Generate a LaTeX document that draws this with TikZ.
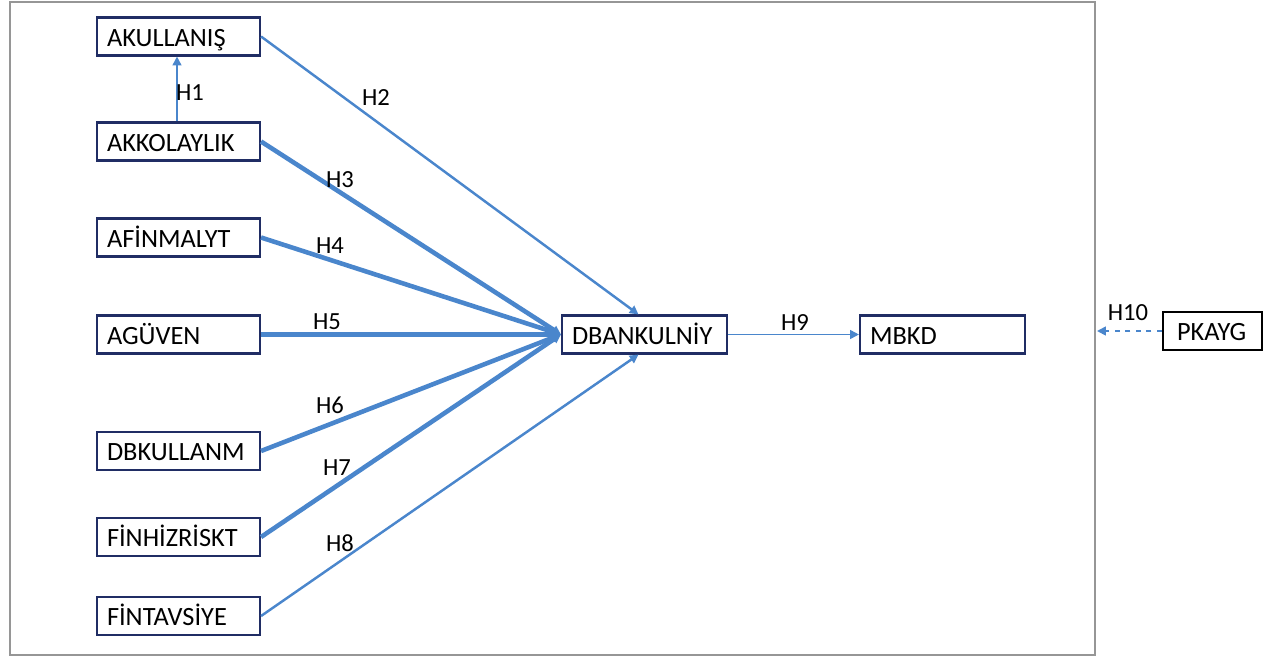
\documentclass[tikz,border=0pt]{standalone}
\usepackage{fontspec}
\setmainfont{Carlito}
\usetikzlibrary{arrows.meta,positioning}
\definecolor{boxnavy}{RGB}{32,45,100}
\definecolor{pathblue}{RGB}{74,134,204}
\definecolor{framegray}{RGB}{150,150,150}

\tikzset{
  var/.style={draw=boxnavy,line width=1.2pt,minimum width=3.26cm,minimum height=0.76cm,
    text width=2.86cm,text height=14pt,text depth=3pt,align=left,inner sep=2pt,
    font=\fontsize{15}{16}\selectfont},
  hyp/.style={draw=pathblue,line width=1.4pt,-{Triangle[length=5pt,width=5pt]}},
  strong/.style={hyp,line width=2.6pt},
  lbl/.style={font=\fontsize{14}{15}\selectfont,inner sep=1pt}
}

\begin{document}
\begin{tikzpicture}
\useasboundingbox (0,0) rectangle (25.4,13.18);
\draw[framegray,line width=1pt] (0.2,0.08) rectangle (21.9,13.14);
% left column
\node[var] (akul) at (3.57,12.45) {AKULLANIŞ};
\node[var] (akkol) at (3.57,10.35) {AKKOLAYLIK};
\node[var] (afin) at (3.57,8.43) {AFİNMALYT};
\node[var] (aguv) at (3.57,6.49) {AGÜVEN};
\node[var] (dbkul) at (3.57,4.16) {DBKULLANM};
\node[var] (finhiz) at (3.57,2.44) {FİNHİZRİSKT};
\node[var] (fintav) at (3.57,0.86) {FİNTAVSİYE};
% middle and right
\node[var,minimum width=3.3cm,text width=2.9cm] (dbank) at (12.89,6.49) {DBANKULNİY};
\node[var,minimum width=3.3cm,text width=2.9cm] (mbkd) at (18.85,6.49) {MBKD};
\node[var,draw=black,minimum width=1.98cm,text width=1.42cm] (pkayg) at (24.25,6.56) {PKAYG};
\coordinate (frameedge) at (21.94,6.56);
% paths
\draw[hyp,line width=1pt] (akkol.north -| 3.54,0) -- (akul.south -| 3.54,0);
\draw[hyp] (akul.east) -- ([xshift=-0.12cm]dbank.north);
\draw[strong] (akkol.east) -- (dbank.west);
\draw[strong] (afin.east) -- (dbank.west);
\draw[strong] (aguv.east) -- (dbank.west);
\draw[strong] (dbkul.east) -- (dbank.west);
\draw[strong] (finhiz.east) -- (dbank.west);
\draw[hyp] (fintav.east) -- ([xshift=-0.12cm]dbank.south);
\draw[hyp,line width=1pt] (dbank.east) -- (mbkd.west);
\draw[hyp,line width=1pt,dashed] (pkayg.west) -- (frameedge);
% labels
\node[lbl] (h1) at (3.8,11.32) {H1};
\node[lbl] (h2) at (7.52,11.22) {H2};
\node[lbl] (h3) at (6.8,9.58) {H3};
\node[lbl] (h4) at (6.6,8.26) {H4};
\node[lbl] (h5) at (6.54,6.74) {H5};
\node[lbl] (h6) at (6.6,5.08) {H6};
\node[lbl] (h7) at (6.74,3.82) {H7};
\node[lbl] (h8) at (6.8,2.32) {H8};
\node[lbl] (h9) at (15.9,6.72) {H9};
\node[lbl] (h10) at (22.56,6.92) {H10};
\end{tikzpicture}
\end{document}
